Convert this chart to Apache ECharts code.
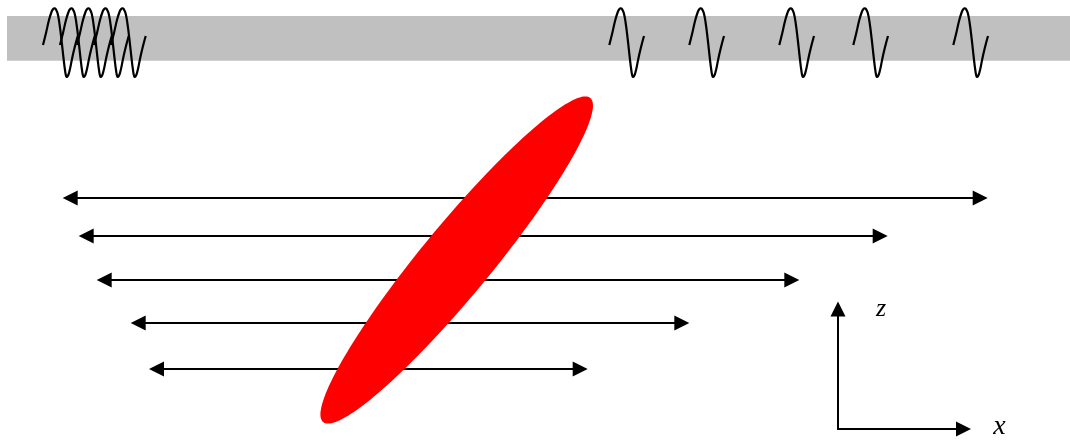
<!DOCTYPE html>
<html><head><meta charset="utf-8">
<script src="https://cdn.jsdelivr.net/npm/echarts@6/dist/echarts.min.js"></script>
<style>html,body{margin:0;padding:0;background:#fff}#c{width:1070px;height:440px}</style>
</head><body><div id="c"></div>
<script>
// ---- diagram values, in pixel-like diagram units ----
const bandExtent = [[7, 16, 1070, 60.7]];                 // [x0, y0, x1, y1] gray strip
const waveletStarts = [43, 60, 77, 94, 111, 609.3, 689.3, 779.3, 853.3, 953.3];
const waveletShape = [                                       // [dx, y] one wavelet outline
  [0, 45], [3, 33], [6, 20], [8.5, 12], [10, 9.2], [11.4, 8.3], [12.8, 9.2], [14.5, 13],
  [16.5, 24], [18.5, 40], [20.5, 58], [22, 70], [23.4, 76.7], [24.8, 76], [26.5, 71],
  [29, 59], [31.5, 48], [34.7, 36]
];
const arrowLevels = [198, 236, 280, 323, 369];               // y of each double arrow
const arrowLeft   = [62.7, 78.7, 96.7, 130.7, 149];
const arrowRight  = [987.7, 887.7, 799.3, 689.3, 587.7];
const ellipseParams = [[456.7, 260, 210, 35, 50.5]];        // [cx, cy, semiMajor, semiMinor, tiltDeg]
const frameAxes = [[838, 429, 301.5, 971]];                 // [originX, originY, zTipY, xTipX]
const axisLabels = [['z', 881, 309, 26], ['x', 999.5, 427, 28]];

const arrowData = arrowLevels.map((y, i) => [y, arrowLeft[i], arrowRight[i]]);
const HEAD = 15, HALF = 7.5;

const chart = echarts.init(document.getElementById('c'), null, {renderer: 'canvas'});
chart.setOption({
  animation: false,
  backgroundColor: '#ffffff',
  grid: {left: 0, right: 0, top: 0, bottom: 0},
  xAxis: {type: 'value', min: 0, max: 1070, show: false},
  yAxis: {type: 'value', min: 0, max: 440, inverse: true, show: false},
  series: [
    {
      type: 'custom', silent: true, z: 1, data: bandExtent,
      renderItem: (params, api) => {
        const p0 = api.coord([api.value(0), api.value(1)]);
        const p1 = api.coord([api.value(2), api.value(3)]);
        return {type: 'rect', shape: {x: p0[0], y: p0[1], width: p1[0] - p0[0], height: p1[1] - p0[1]},
                style: {fill: '#c0c0c0'}};
      }
    },
    {
      type: 'custom', silent: true, z: 2, data: waveletStarts.map(s => [s]),
      renderItem: (params, api) => {
        const s = api.value(0);
        const pts = waveletShape.map(p => api.coord([s + p[0], p[1]]));
        return {type: 'polyline', shape: {points: pts, smooth: 0.5},
                style: {stroke: '#000', lineWidth: 2.2, fill: null, lineJoin: 'round'}};
      }
    },
    {
      type: 'custom', silent: true, z: 2, data: arrowData,
      renderItem: (params, api) => {
        const y = api.value(0);
        const l = api.coord([api.value(1), y]);
        const r = api.coord([api.value(2), y]);
        return {type: 'group', children: [
          {type: 'line', shape: {x1: l[0] + HEAD - 1, y1: l[1], x2: r[0] - HEAD + 1, y2: r[1]},
           style: {stroke: '#000', lineWidth: 2}},
          {type: 'polygon', shape: {points: [[l[0], l[1]], [l[0] + HEAD, l[1] - HALF], [l[0] + HEAD, l[1] + HALF]]},
           style: {fill: '#000'}},
          {type: 'polygon', shape: {points: [[r[0], r[1]], [r[0] - HEAD, r[1] - HALF], [r[0] - HEAD, r[1] + HALF]]},
           style: {fill: '#000'}}
        ]};
      }
    },
    {
      type: 'custom', silent: true, z: 3, data: ellipseParams,
      renderItem: (params, api) => {
        const cx = api.value(0), cy = api.value(1), a = api.value(2), b = api.value(3);
        const t = api.value(4) * Math.PI / 180;
        const pts = [];
        for (let k = 0; k < 180; k++) {
          const u = k / 180 * 2 * Math.PI;
          const ex = a * Math.cos(u), ey = b * Math.sin(u);
          pts.push(api.coord([cx + ex * Math.cos(t) - ey * Math.sin(t), cy - ex * Math.sin(t) - ey * Math.cos(t)]));
        }
        return {type: 'polygon', shape: {points: pts}, style: {fill: '#ff0000'}};
      }
    },
    {
      type: 'custom', silent: true, z: 3, data: frameAxes,
      renderItem: (params, api) => {
        const o = api.coord([api.value(0), api.value(1)]);
        const zt = api.coord([api.value(0), api.value(2)]);
        const xt = api.coord([api.value(3), api.value(1)]);
        return {type: 'group', children: [
          {type: 'line', shape: {x1: o[0], y1: o[1] + 1, x2: zt[0], y2: zt[1] + HEAD - 1}, style: {stroke: '#000', lineWidth: 2}},
          {type: 'line', shape: {x1: o[0] - 1, y1: o[1], x2: xt[0] - HEAD + 1, y2: xt[1]}, style: {stroke: '#000', lineWidth: 2}},
          {type: 'polygon', shape: {points: [[zt[0], zt[1]], [zt[0] - HALF, zt[1] + HEAD], [zt[0] + HALF, zt[1] + HEAD]]}, style: {fill: '#000'}},
          {type: 'polygon', shape: {points: [[xt[0], xt[1]], [xt[0] - HEAD, xt[1] - HALF], [xt[0] - HEAD, xt[1] + HALF]]}, style: {fill: '#000'}}
        ]};
      }
    },
    {
      type: 'custom', silent: true, z: 3, data: axisLabels.map(d => [d[1], d[2], d[3], d[0]]),
      renderItem: (params, api) => {
        const p = api.coord([api.value(0), api.value(1)]);
        const d = axisLabels[params.dataIndex];
        return {type: 'text', x: p[0], y: p[1],
                style: {text: d[0], fill: '#000', font: 'italic ' + d[3] + 'px "Liberation Serif"',
                        textAlign: 'center', textVerticalAlign: 'middle'}};
      }
    }
  ]
});
</script>
</body></html>
